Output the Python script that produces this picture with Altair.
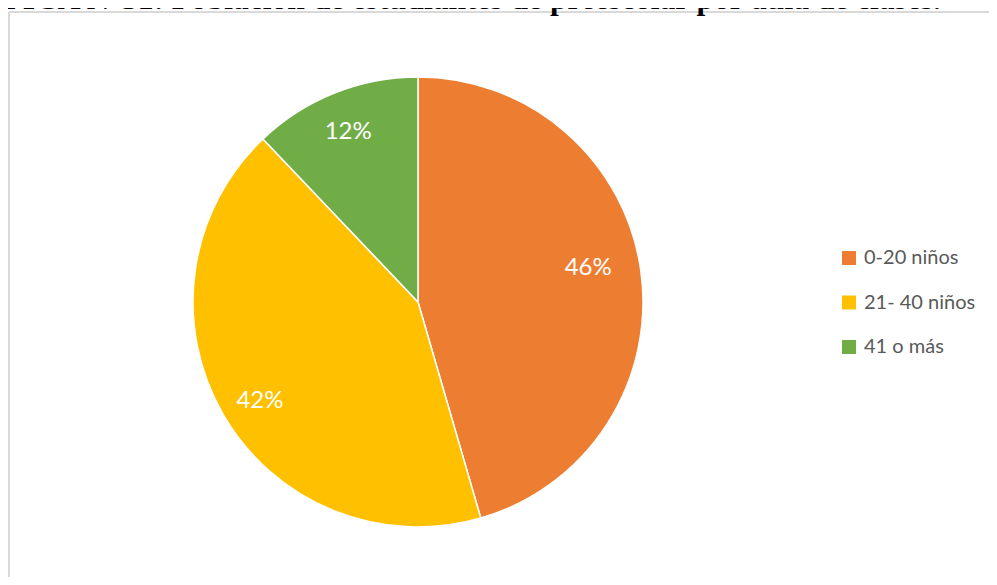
import altair as alt
import pandas as pd

categories = ["0-20 niños", "21- 40 niños", "41 o más"]
shares = [45.5, 42.4, 12.1]
colors = ["#ED7D31", "#FFC000", "#70AD47"]
title_text = "GRÁFICA N°31: Población de estudiantes de preescolar por aula de clases."

df = pd.DataFrame({"cat": categories, "val": shares, "order": [0, 1, 2]})

W, H = 980, 565
CX, CY = 409, 290

pie = alt.Chart(df).mark_arc(
    radius=225, stroke="white", strokeWidth=1.5, x=CX, y=CY
).encode(
    theta=alt.Theta("val:Q", stack=True, scale=alt.Scale(domain=[0, 100])),
    order=alt.Order("order:Q"),
    color=alt.Color(
        "cat:N",
        scale=alt.Scale(domain=categories, range=colors),
        sort=categories,
        legend=alt.Legend(
            title=None,
            orient="none",
            legendX=830,
            legendY=236,
            symbolType="square",
            symbolSize=196,
            symbolStrokeWidth=0,
            labelFontSize=20,
            labelFont="Lato",
            labelColor="#595959",
            rowPadding=24.5,
            labelOffset=5,
            padding=0,
        ),
    ),
)

# per-label nudges to mimic the spreadsheet's "best fit" label placement
label_nudge = {"0-20 niños": (-8, -9), "21- 40 niños": (-2, 9), "41 o más": (-3, -3)}
label_base = alt.Chart(df).transform_joinaggregate(
    total="sum(val)"
).transform_window(
    cum="sum(val)", sort=[alt.SortField("order")]
).transform_calculate(
    mid="datum.cum - datum.val / 2", frac="datum.val / datum.total"
)
label_layers = []
for cat, (ddx, ddy) in label_nudge.items():
    label_layers.append(
        label_base.transform_filter(alt.datum.cat == cat).mark_text(
            radius=180, x=CX, y=CY, dx=ddx, dy=ddy,
            fontSize=24, font="Lato", color="white"
        ).encode(
            theta=alt.Theta("mid:Q", scale=alt.Scale(domain=[0, 100])),
            text=alt.Text("frac:Q", format=".0%"),
        )
    )

frame_df = pd.DataFrame({"k": ["left", "top"]})
left_rule = alt.Chart(frame_df).transform_filter("datum.k == 'left'").mark_rule(
    color="#d9d9d9", strokeWidth=2
).encode(x=alt.value(0), y=alt.value(0), y2=alt.value(H + 20))
top_rule = alt.Chart(frame_df).transform_filter("datum.k == 'top'").mark_rule(
    color="#d9d9d9", strokeWidth=2
).encode(y=alt.value(0), x=alt.value(0), x2=alt.value(W + 20))

title = alt.Chart(pd.DataFrame({"t": [title_text]})).mark_text(
    font="Liberation Serif", fontSize=31.5, fontWeight="bold", align="right",
    baseline="alphabetic", color="black"
).encode(text="t:N", x=alt.value(932), y=alt.value(-3))

chart = alt.layer(left_rule, top_rule, pie, *label_layers, title).properties(
    width=W, height=H,
    autosize=alt.AutoSizeParams(type="none"),
    padding={"left": 1, "top": 4, "right": 0, "bottom": 0},
).configure_view(strokeWidth=0)

chart.save("out.html", embed_options={"renderer": "svg", "actions": False})
